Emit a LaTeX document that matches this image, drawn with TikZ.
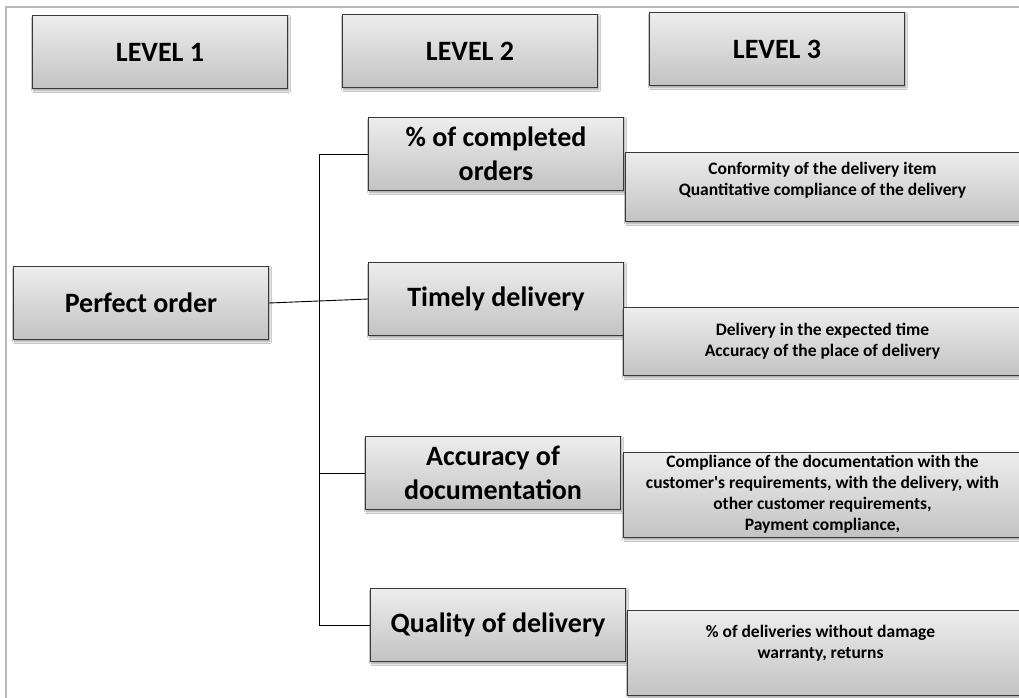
\documentclass[tikz,border=0pt]{standalone}
\usepackage{fontspec}
\setmainfont{Carlito}[Ligatures=TeXOff]
\usetikzlibrary{shadows,shadows.blur}
\definecolor{boxtop}{HTML}{EDEDED}
\definecolor{boxbot}{HTML}{C3C3C3}
\definecolor{boxline}{HTML}{383838}
\definecolor{framegray}{HTML}{B8B8B8}
\begin{document}
\begin{tikzpicture}[x=1pt,y=-1pt,
  gbox/.style={draw=boxline, line width=1pt, top color=boxtop, bottom color=boxbot,
    inner sep=0pt, anchor=north west, align=center,
    blur shadow={shadow xshift=1.2pt, shadow yshift=-2pt, shadow blur radius=2pt,
      shadow blur steps=6, shadow opacity=40}},
  bigbox/.style={gbox, minimum width=255pt, minimum height=73pt,
    font=\bfseries\fontsize{28}{34}\selectfont},
  subbox/.style={gbox, minimum width=420pt},
  subtext/.style={align=center, inner sep=0pt, font=\bfseries\fontsize{17.5}{21}\selectfont},
  conn/.style={draw=black, line width=0.9pt}
]
\useasboundingbox (0,0) rectangle (1019,697);
\clip (0,0) rectangle (1019,697);
\fill[white] (0,0) rectangle (1019,697);
\draw[framegray, line width=1.5pt] (6,720) -- (6,7) -- (1040,7);

% header boxes
\node[bigbox] (h1) at (32,15) {LEVEL 1};
\node[bigbox] (h2) at (342,14) {LEVEL 2};
\node[bigbox] (h3) at (649,12) {LEVEL 3};

% level 1
\node[bigbox] (p) at (13,266) {Perfect order};

% level 2
\node[bigbox] (b1) at (368,117) {\% of completed\\orders};
\node[bigbox] (b2) at (368,262) {Timely delivery};
\node[bigbox] (b3) at (365,436) {Accuracy of\\documentation};
\node[bigbox] (b4) at (370,588) {Quality of delivery};

% level 3
\node[subbox, minimum height=69pt] (c1) at (625,152) {};
\node[subbox, minimum height=68pt] (c2) at (623,307) {};
\node[subbox, minimum height=85pt] (c3) at (623,452) {};
\node[subbox, minimum height=85pt] (c4) at (627,610) {};

\node[subtext] (t1) at (822.5,180) {Conformity of the delivery item\\Quantitative compliance of the delivery};
\node[subtext] (t2) at (822.5,341.5) {Delivery in the expected time\\Accuracy of the place of delivery};
\node[subtext] (t3) at (822.5,494.5) {Compliance of the documentation with the\\customer's requirements, with the delivery, with\\other customer requirements,\\Payment compliance,};
\node[subtext] (t4) at (820.5,643) {\% of deliveries without damage\\warranty, returns};

% connectors
\draw[conn] (b1.west) -- ++(-49,0) coordinate (jt) -- (jt |- b4.west) -- (b4.west);
\draw[conn] (jt |- b3.west) -- (b3.west);
\draw[conn] (p.east) -- (b2.west);
\end{tikzpicture}
\end{document}
